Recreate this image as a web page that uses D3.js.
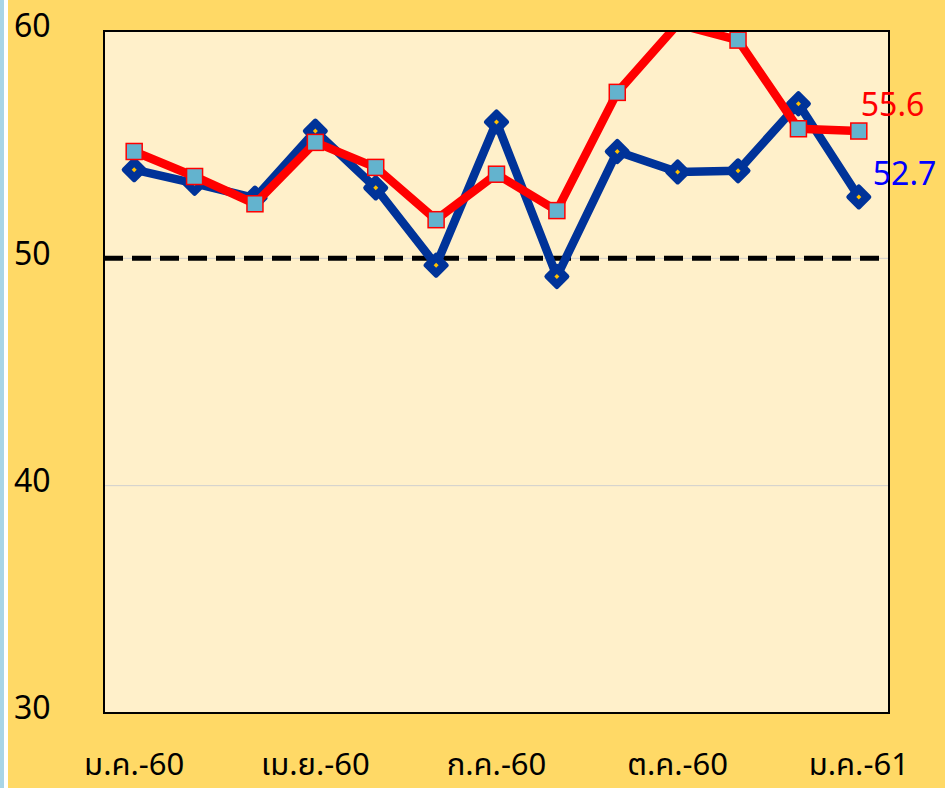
<!DOCTYPE html>
<html>
<head>
<meta charset="utf-8">
<script src="https://cdn.jsdelivr.net/npm/d3@7"></script>
<style>
  body { margin: 0; background: #FFD966; }
  text { font-family: Tahoma, "Noto Sans Thai", "Noto Sans", "DejaVu Sans", sans-serif; }
</style>
</head>
<body>
<div id="chart"></div>
<script>
// months Jan-60 .. Jan-61 (Thai)
const months = ["ม.ค.-60", "ก.พ.-60", "มี.ค.-60", "เม.ย.-60", "พ.ค.-60", "มิ.ย.-60",
    "ก.ค.-60", "ส.ค.-60", "ก.ย.-60", "ต.ค.-60", "พ.ย.-60", "ธ.ค.-60", "ม.ค.-61"];
const blueValues = [53.9, 53.3, 52.65, 55.6, 53.1, 49.7, 56.0, 49.2, 54.7, 53.8, 53.85, 56.8, 52.7];
const redValues = [54.7, 53.6, 52.4, 55.1, 54.0, 51.7, 53.7, 52.1, 57.3, 60.3, 59.6, 55.7, 55.6];
const yTicks = [30, 40, 50, 60];
const xTickLabels = ["ม.ค.-60", "เม.ย.-60", "ก.ค.-60", "ต.ค.-60", "ม.ค.-61"];

const svgWidth = 945;
const svgHeight = 788;
const margin = { top: 31, right: 56, bottom: 75, left: 104 };
const chartWidth = svgWidth - margin.left - margin.right;
const chartHeight = svgHeight - margin.top - margin.bottom;

const svg = d3.select("#chart")
    .append("svg")
    .attr("width", svgWidth)
    .attr("height", svgHeight);

svg.append("rect").attr("width", svgWidth).attr("height", svgHeight).attr("fill", "#FFD966");
// left strip
svg.append("rect").attr("width", 8).attr("height", svgHeight).attr("fill", "#fff");
svg.append("rect").attr("width", 4).attr("height", svgHeight).attr("fill", "#A9D5E6");

const chart = svg.append("g")
    .attr("transform", `translate(${margin.left},${margin.top})`);

const xScale = d3.scaleBand()
    .domain(months)
    .range([0, chartWidth])
    .padding(0);
const cx = d => xScale(d) + xScale.bandwidth() / 2;

const yScale = d3.scaleLinear()
    .domain([30, 60])
    .range([chartHeight, 0]);

chart.append("rect")
    .attr("width", chartWidth)
    .attr("height", chartHeight)
    .attr("fill", "#FFF0CA");

svg.append("clipPath").attr("id", "clip")
    .append("rect").attr("width", chartWidth).attr("height", chartHeight);

// gridlines
chart.selectAll(".grid")
    .data(yTicks.filter(t => t > 30 && t < 60))
    .enter()
    .append("line")
    .attr("x1", 0).attr("x2", chartWidth)
    .attr("y1", d => yScale(d)).attr("y2", d => yScale(d))
    .attr("stroke", "#CFCFCF").attr("stroke-width", 1);

// 50 reference line
chart.append("line")
    .attr("x1", 0).attr("x2", chartWidth)
    .attr("y1", yScale(50)).attr("y2", yScale(50))
    .attr("stroke", "#000").attr("stroke-width", 5)
    .attr("stroke-dasharray", "19,9");

const plot = chart.append("g").attr("clip-path", "url(#clip)");

const line = d3.line()
    .x((d, i) => cx(months[i]))
    .y(d => yScale(d));

plot.append("path")
    .datum(blueValues)
    .attr("d", line)
    .attr("fill", "none")
    .attr("stroke", "#003399")
    .attr("stroke-width", 8.5)
    .attr("stroke-linejoin", "round");

// blue diamonds
const diamonds = plot.selectAll(".dia")
    .data(blueValues)
    .enter()
    .append("g")
    .attr("transform", (d, i) => `translate(${cx(months[i])},${yScale(d)})`);
diamonds.append("path")
    .attr("d", "M0,-10L10,0L0,10L-10,0Z")
    .attr("fill", "#003399")
    .attr("stroke", "#003399")
    .attr("stroke-width", 5)
    .attr("stroke-linejoin", "round");
diamonds.append("path")
    .attr("d", "M0,-2.5L2.5,0L0,2.5L-2.5,0Z")
    .attr("fill", "#FFC000");

plot.append("path")
    .datum(redValues)
    .attr("d", line)
    .attr("fill", "none")
    .attr("stroke", "#FF0000")
    .attr("stroke-width", 8.5)
    .attr("stroke-linejoin", "round");

// red squares (skip points above axis max)
plot.selectAll(".sq")
    .data(redValues.map((v, i) => ({ v, m: months[i] })).filter(d => d.v <= 60))
    .enter()
    .append("rect")
    .attr("x", d => cx(d.m) - 8)
    .attr("y", d => yScale(d.v) - 8)
    .attr("width", 16)
    .attr("height", 16)
    .attr("fill", "#63B3CE")
    .attr("stroke", "#FF0000")
    .attr("stroke-width", 1.5);

// plot border
chart.append("rect")
    .attr("width", chartWidth)
    .attr("height", chartHeight)
    .attr("fill", "none")
    .attr("stroke", "#000")
    .attr("stroke-width", 2);

// y labels
svg.selectAll(".ylab")
    .data(yTicks)
    .enter()
    .append("text")
    .attr("x", 14)
    .attr("y", d => margin.top + yScale(d) - 5)
    .attr("dy", "0.35em")
    .style("font-size", "32px")
    .style("fill", "#000")
    .text(d => d);

// x labels
svg.selectAll(".xlab")
    .data(xTickLabels)
    .enter()
    .append("text")
    .attr("x", d => margin.left + cx(d))
    .attr("y", 775)
    .style("text-anchor", "middle")
    .style("font-size", "31px")
    .style("fill", "#000")
    .text(d => d);

// end labels
const last = months.length - 1;
svg.append("text")
    .attr("x", margin.left + cx(months[last]) + 2)
    .attr("y", margin.top + yScale(redValues[last]) - 26)
    .attr("dy", "0.35em")
    .style("font-size", "32px")
    .style("fill", "#FF0000")
    .text(redValues[last].toFixed(1));
svg.append("text")
    .attr("x", margin.left + cx(months[last]) + 14)
    .attr("y", margin.top + yScale(blueValues[last]) - 23)
    .attr("dy", "0.35em")
    .style("font-size", "32px")
    .style("fill", "#0000FF")
    .text(blueValues[last].toFixed(1));
</script>
</body>
</html>
